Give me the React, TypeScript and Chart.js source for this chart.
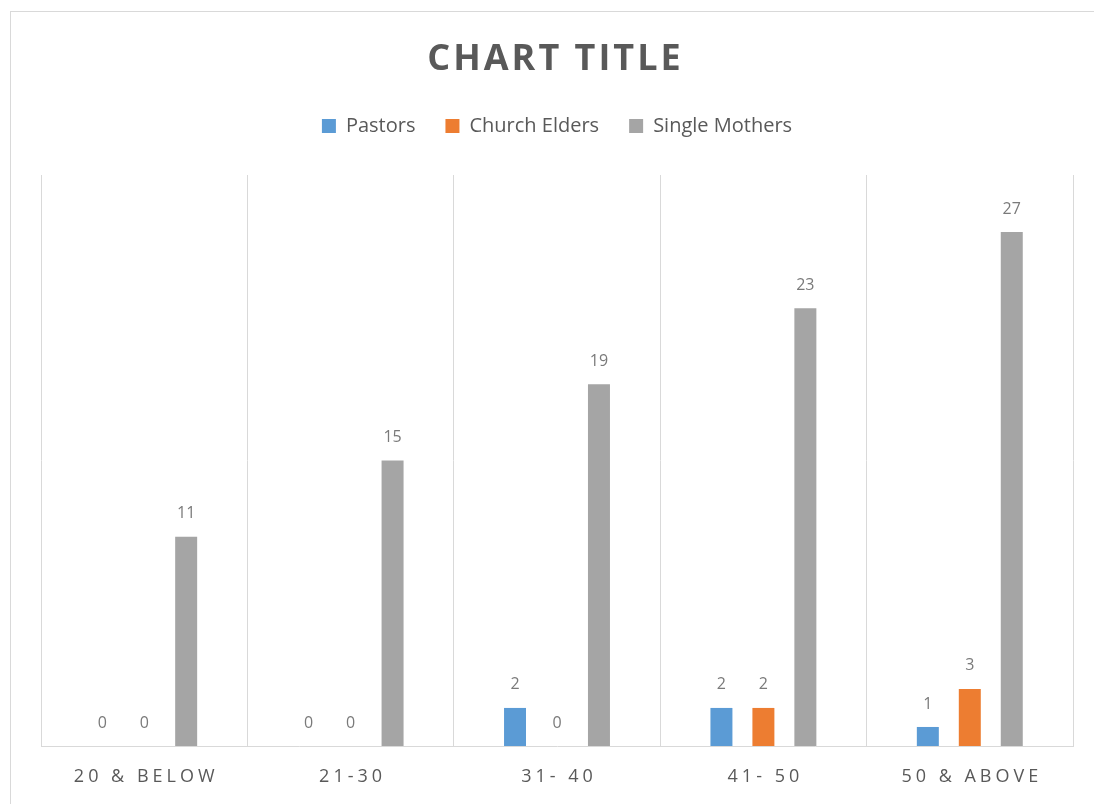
import { useEffect, useRef } from "react";
import { Chart, registerables } from "chart.js";

Chart.register(...registerables);

const categories = ["20 & BELOW", "21-30", "31- 40", "41- 50", "50 & ABOVE"];
const pastors = [0, 0, 2, 2, 1];
const churchElders = [0, 0, 0, 2, 3];
const singleMothers = [11, 15, 19, 23, 27];
const seriesNames = ["Pastors", "Church Elders", "Single Mothers"];
const seriesColors = ["#5b9bd5", "#ed7d31", "#a5a5a5"];
const chartTitle = "CHART TITLE";
const yMax = 30;

const FONT = "'Open Sans', 'DejaVu Sans', sans-serif";

const excelText = {
  id: "excelText",
  beforeLayout(chart: any) {
    const lg = chart.legend;
    if (lg && !lg.__patched) {
      const orig = lg.fit;
      lg.fit = function () {
        orig.call(this);
        this.height += 29;
      };
      lg.__patched = true;
    }
  },
  afterDatasetsDraw(chart: any) {
    const ctx = chart.ctx;
    ctx.save();
    ctx.font = `16px ${FONT}`;
    ctx.fillStyle = "#7a7a7a";
    ctx.textAlign = "center";
    ctx.textBaseline = "middle";
    chart.data.datasets.forEach((ds: any, i: number) => {
      const meta = chart.getDatasetMeta(i);
      meta.data.forEach((el: any, j: number) => {
        ctx.fillText(String(ds.data[j]), el.x, el.y - 23);
      });
    });
    ctx.restore();
  },
  afterDraw(chart: any) {
    const ctx = chart.ctx;
    const xs = chart.scales.x;
    ctx.save();
    // title
    const ts = 3;
    (ctx as any).letterSpacing = ts + "px";
    ctx.font = `bold 36px ${FONT}`;
    ctx.fillStyle = "#595959";
    ctx.textAlign = "center";
    ctx.textBaseline = "middle";
    ctx.fillText(chartTitle, 543 + ts / 2, 48);
    // x labels
    const ls = 4;
    (ctx as any).letterSpacing = ls + "px";
    ctx.font = `18px ${FONT}`;
    ctx.fillStyle = "#595959";
    categories.forEach((c, i) => {
      ctx.fillText(c, xs.getPixelForValue(i) + ls / 2, 765);
    });
    (ctx as any).letterSpacing = "0px";
    ctx.restore();
  },
};

export default function App() {
  const ref = useRef<HTMLCanvasElement | null>(null);
  useEffect(() => {
    if (!ref.current) return;
    const chart = new Chart(ref.current, {
      type: "bar",
      data: {
        labels: categories,
        datasets: [pastors, churchElders, singleMothers].map((d, i) => ({
          label: seriesNames[i],
          data: d,
          backgroundColor: seriesColors[i],
          borderWidth: 0,
          categoryPercentage: 0.61,
          barPercentage: 0.524,
        })),
      },
      options: {
        responsive: false,
        animation: false,
        devicePixelRatio: 1,
        layout: { padding: { left: 30, right: 21, top: 74, bottom: 58 } },
        plugins: {
          title: { display: false },
          tooltip: { enabled: false },
          legend: {
            display: true,
            position: "top",
            labels: {
              boxWidth: 14,
              boxHeight: 14,
              padding: 30,
              color: "#595959",
              font: { size: 20, family: FONT },
            },
          },
        },
        scales: {
          x: {
            offset: true,
            grid: { display: true, offset: true, color: "#d9d9d9", drawTicks: false, lineWidth: 1 },
            border: { display: true, color: "#d9d9d9", width: 1 },
            ticks: { display: false },
          },
          y: {
            display: false,
            min: 0,
            max: yMax,
          },
        },
      },
      plugins: [excelText],
    } as any);
    return () => chart.destroy();
  }, []);
  return (
    <div
      style={{
        position: "fixed",
        left: 10,
        top: 11,
        width: 1084,
        height: 793,
        borderTop: "1px solid #d9d9d9",
        borderLeft: "1px solid #d9d9d9",
        background: "#fff",
      }}
    >
      <canvas ref={ref} width={1083} height={792} style={{ display: "block", width: 1083, height: 792 }} />
    </div>
  );
}
